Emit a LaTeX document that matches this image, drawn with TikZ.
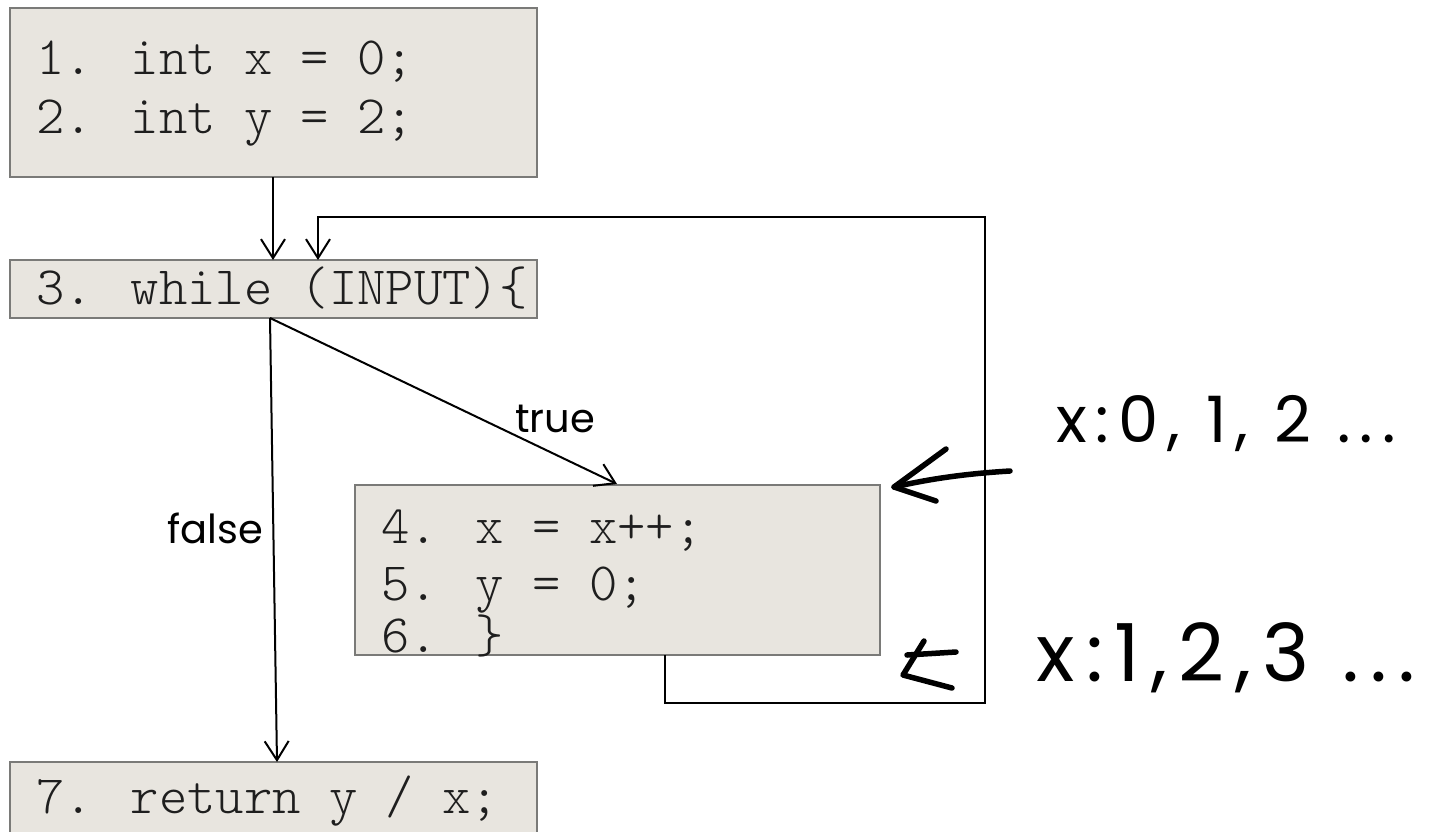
\documentclass[tikz,border=0pt]{standalone}
\usepackage{fontspec}
\newfontfamily\codefont{Latin Modern Mono Light}
\newfontfamily\labelfont{Poppins}
\newfontfamily\handfont{Poppins}
\usetikzlibrary{arrows.meta}

\definecolor{boxfill}{HTML}{E8E5DF}
\definecolor{boxedge}{HTML}{7A7A78}
\definecolor{codeink}{HTML}{1E1E1E}

\tikzset{
  block/.style={draw=boxedge, fill=boxfill, line width=2.2pt, inner sep=0pt,
    outer sep=0pt, anchor=north west},
  code/.style={anchor=base west, inner sep=0pt, text=codeink,
    font=\fontsize{54}{60}\selectfont\codefont},
  edgelabel/.style={inner sep=0pt, font=\fontsize{40}{46}\selectfont\labelfont},
  flow/.style={draw=black, line width=2pt, -{Straight Barb[length=19pt,width=24pt,line width=2pt]}},
  ink/.style={draw=black, line width=5.5pt, line cap=round, line join=round},
  hand/.style={inner sep=0pt}
}

\begin{document}
\begin{tikzpicture}[x=1pt,y=-1pt]
\useasboundingbox (0,0) rectangle (1438,831);
\clip (0,0) rectangle (1438,831);
\fill[white] (0,0) rectangle (1438,831);

% basic blocks
\node[block, minimum width=527pt, minimum height=169pt] (b1) at (10,8) {};
\node[block, minimum width=527pt, minimum height=58pt] (b3) at (10,260) {};
\node[block, minimum width=525pt, minimum height=170pt] (b4) at (355,485) {};
\node[block, minimum width=527pt, minimum height=90pt] (b7) at (10,762) {};

% source lines
\node[code] (l1) at (36,74) {1. int x = 0;};
\node[code] (l2) at (36,133) {2. int y = 2;};
\node[code] (l3) at (36,304) {3. while (INPUT)\{};
\node[code] (l4) at (381,543) {4. x = x++;};
\node[code] (l5) at (381,600) {5. y = 0;};
\node[code] (l6) at (381,652) {6. \}};
\node[code] (l7) at (36,813) {7. return y / x;};

% attachment points on the blocks
\coordinate (b1out) at (273,177);
\coordinate (b3in) at (273,260);
\coordinate (b3back) at (318,260);
\coordinate (b3out) at (270,318);
\coordinate (b4in) at (617,484);
\coordinate (b4out) at (665,655);
\coordinate (b7in) at (277,762);

% control flow
\draw[flow] (b1out) -- (b3in);
\draw[flow] (b3out) -- (b4in);
\draw[flow] (b3out) -- (b7in);
\draw[flow] (b4out) |- (985,703) |- (318,217) -- (b3back);

\node[edgelabel] (ltrue) at (555,419) {true};
\node[edgelabel, anchor=east] (lfalse) at (263,528) {false};

% pen annotations
\coordinate (pa) at (1010,471);
\draw[ink] (pa) .. controls (960,474) and (925,480) .. (894,487);
\draw[ink] (946,449) -- (894,487) -- (936,501);
\node[hand, font=\handfont\fontsize{64}{70}\selectfont\addfontfeature{LetterSpace=14}] (n1) at (1226,424) {x:0, 1, 2 ...};

\draw[ink] (924,641) -- (903,675) -- (952,688);
\draw[ink] (907,655) -- (956,652);
\node[hand, font=\handfont\fontsize{80}{90}\selectfont\addfontfeature{LetterSpace=14}] (n2) at (1226,658) {x:1,2,3 ...};
\end{tikzpicture}
\end{document}
